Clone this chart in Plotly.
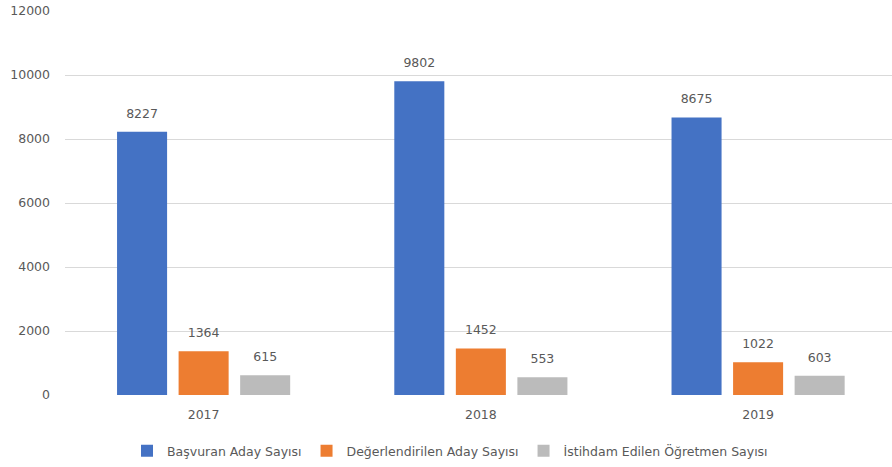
import plotly.graph_objects as go

years = ["2017", "2018", "2019"]
basvuran = [8227, 9802, 8675]
degerlendirilen = [1364, 1452, 1022]
istihdam = [615, 553, 603]
series_names = ["Başvuran Aday Sayısı", "Değerlendirilen Aday Sayısı", "İstihdam Edilen Öğretmen Sayısı"]
y_ticks = [0, 2000, 4000, 6000, 8000, 10000, 12000]

colors = ["#4472C4", "#ED7D31", "#BBBBBB"]
font_fam = "DejaVu Sans, sans-serif"
txt_col = "#595959"
GAP = 0.334
FS = 12.5

fig = go.Figure()
for i, (name, vals, col) in enumerate(zip(series_names, [basvuran, degerlendirilen, istihdam], colors)):
    fig.add_trace(go.Bar(
        x=years, y=vals, name=name, marker=dict(color=col, line=dict(width=0)),
        offsetgroup=str(i), hoverinfo="skip",
    ))
for i, vals in enumerate([basvuran, degerlendirilen, istihdam]):
    fig.add_trace(go.Scatter(
        x=years, y=vals, mode="markers+text", text=[str(v) for v in vals],
        textposition="top center", textfont=dict(size=FS, color=txt_col, family=font_fam),
        marker=dict(size=16, opacity=0), showlegend=False, offsetgroup=str(i),
        cliponaxis=False, hoverinfo="skip",
    ))

fig.update_layout(
    width=892, height=467,
    margin=dict(l=65, r=0, t=11, b=72, autoexpand=False),
    barmode="group", bargap=GAP, bargroupgap=0.187,
    scattermode="group", scattergap=GAP,
    plot_bgcolor="white", paper_bgcolor="white",
    font=dict(family=font_fam, size=FS, color=txt_col),
    showlegend=True,
    legend=dict(orientation="h", x=0.075, xanchor="left", yref="container", y=0.034,
                yanchor="middle", font=dict(size=FS, color=txt_col), itemwidth=30,
                traceorder="normal"),
    xaxis=dict(range=[-0.5, 2.483], showgrid=False, showline=False, ticks="",
               tickfont=dict(size=FS, color=txt_col), ticklabelstandoff=10),
    yaxis=dict(range=[0, 12000], tickvals=y_ticks, ticktext=[str(t) for t in y_ticks],
               showgrid=True, gridcolor="#D9D9D9", gridwidth=1, zeroline=True,
               zerolinecolor="white", zerolinewidth=2, showline=False,
               tickfont=dict(size=FS, color=txt_col), ticklabelstandoff=14),
)

fig.write_html("out.html", config={"displayModeBar": False},
               post_script="document.body.style.margin='0';")
